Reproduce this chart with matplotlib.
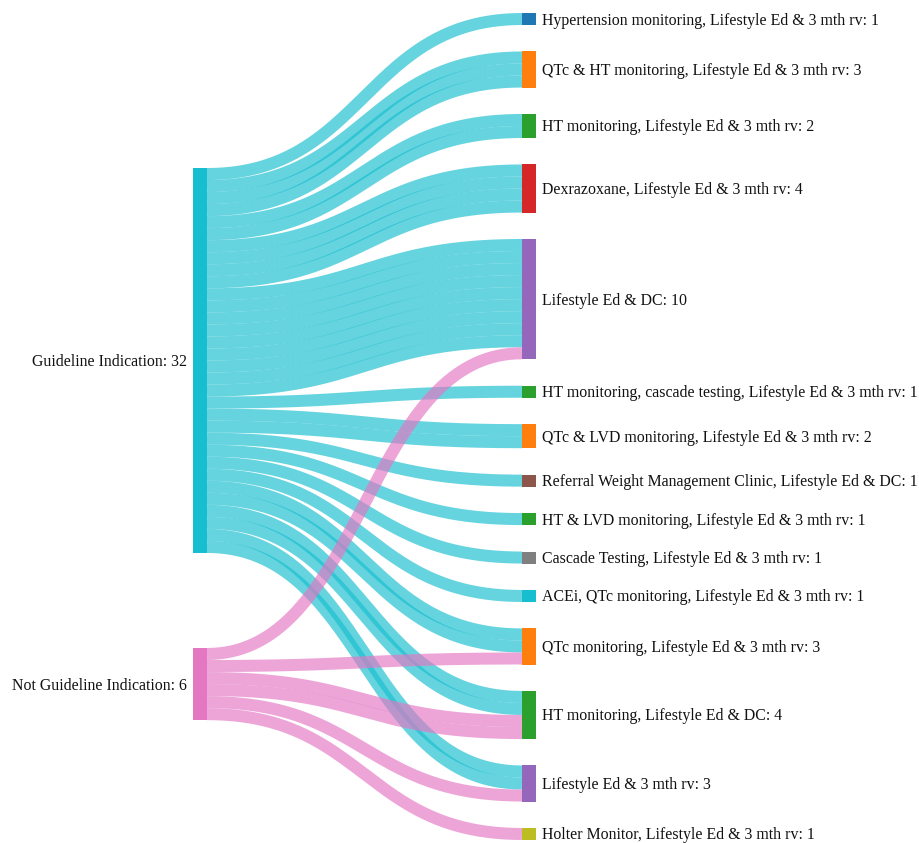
import matplotlib.pyplot as plt
import numpy as np

# left-hand nodes
source_names = ["Guideline Indication", "Not Guideline Indication"]
source_colors = ["#17becf", "#e377c2"]

# right-hand nodes, top to bottom
target_names = [
    "Hypertension monitoring, Lifestyle Ed & 3 mth rv",
    "QTc & HT monitoring, Lifestyle Ed & 3 mth rv",
    "HT monitoring, Lifestyle Ed & 3 mth rv",
    "Dexrazoxane, Lifestyle Ed & 3 mth rv",
    "Lifestyle Ed & DC",
    "HT monitoring, cascade testing, Lifestyle Ed & 3 mth rv",
    "QTc & LVD monitoring, Lifestyle Ed & 3 mth rv",
    "Referral Weight Management Clinic, Lifestyle Ed & DC",
    "HT & LVD monitoring, Lifestyle Ed & 3 mth rv",
    "Cascade Testing, Lifestyle Ed & 3 mth rv",
    "ACEi, QTc monitoring, Lifestyle Ed & 3 mth rv",
    "QTc monitoring, Lifestyle Ed & 3 mth rv",
    "HT monitoring, Lifestyle Ed & DC",
    "Lifestyle Ed & 3 mth rv",
    "Holter Monitor, Lifestyle Ed & 3 mth rv",
]
target_colors = ["#1f77b4", "#ff7f0e", "#2ca02c", "#d62728", "#9467bd",
                 "#2ca02c", "#ff7f0e", "#8c564b", "#2ca02c", "#7f7f7f",
                 "#17becf", "#ff7f0e", "#2ca02c", "#9467bd", "#bcbd22"]

# patients per (source, target)
guideline_counts = [1, 3, 2, 4, 9, 1, 2, 1, 1, 1, 1, 2, 2, 2, 0]
not_guideline_counts = [0, 0, 0, 0, 1, 0, 0, 0, 0, 0, 0, 1, 2, 1, 1]
counts = [guideline_counts, not_guideline_counts]

# layout (pixels)
W, H = 919, 843
unit = 12.03
node_w = 14
left_x, right_x = 193, 522
left_top, left_gap = 168, 95
right_top, right_bottom = 13, 840

fig = plt.figure(figsize=(W / 100, H / 100), dpi=100)
ax = fig.add_axes([0, 0, 1, 1])
ax.set_xlim(0, W)
ax.set_ylim(H, 0)
ax.axis("off")

src_tot = [sum(c) for c in counts]
tgt_tot = [sum(c[j] for c in counts) for j in range(len(target_names))]

# node tops
src_y = []
y = left_top
for v in src_tot:
    src_y.append(y)
    y += v * unit + left_gap
gap_r = (right_bottom - right_top - sum(tgt_tot) * unit) / (len(tgt_tot) - 1)
tgt_y = []
y = right_top
for v in tgt_tot:
    tgt_y.append(y)
    y += v * unit + gap_r

# one link per patient: stacked at source by target, at target by source
src_off = list(src_y)
tgt_off = list(tgt_y)
links = []
for i, c in enumerate(counts):
    for j, n in enumerate(c):
        for _ in range(n):
            links.append((i, j, src_off[i] + unit / 2))
            src_off[i] += unit
links2 = []
for i, j, ys in links:
    links2.append((i, j, ys, tgt_off[j] + unit / 2))
    tgt_off[j] += unit

t = np.linspace(0, 1, 150)
x0, x1 = left_x + node_w, right_x
xm = (x0 + x1) / 2
bx = (1 - t) ** 3 * x0 + 3 * (1 - t) ** 2 * t * xm + 3 * (1 - t) * t ** 2 * xm + t ** 3 * x1
lw = unit * 72 / 100
for i, j, ys, yt in links2:
    by = (1 - t) ** 3 * ys + 3 * (1 - t) ** 2 * t * ys + 3 * (1 - t) * t ** 2 * yt + t ** 3 * yt
    ax.plot(bx, by, color=source_colors[i], alpha=0.66, lw=lw,
            solid_capstyle="butt", zorder=1)

font = dict(family="Liberation Serif", size=11.45, color="#111111")
dy = 1.5  # text baseline nudge
for i, name in enumerate(source_names):
    h = src_tot[i] * unit
    ax.add_patch(plt.Rectangle((left_x, src_y[i]), node_w, h,
                               color=source_colors[i], lw=0, zorder=2))
    ax.text(left_x - 6, src_y[i] + h / 2 + dy, f"{name}: {src_tot[i]}",
            ha="right", va="center", **font)
for j, name in enumerate(target_names):
    h = tgt_tot[j] * unit
    ax.add_patch(plt.Rectangle((right_x, tgt_y[j]), node_w, h,
                               color=target_colors[j], lw=0, zorder=2))
    ax.text(right_x + node_w + 6, tgt_y[j] + h / 2 + dy, f"{name}: {tgt_tot[j]}",
            ha="left", va="center", **font)

fig.savefig("out.png", dpi=100)
